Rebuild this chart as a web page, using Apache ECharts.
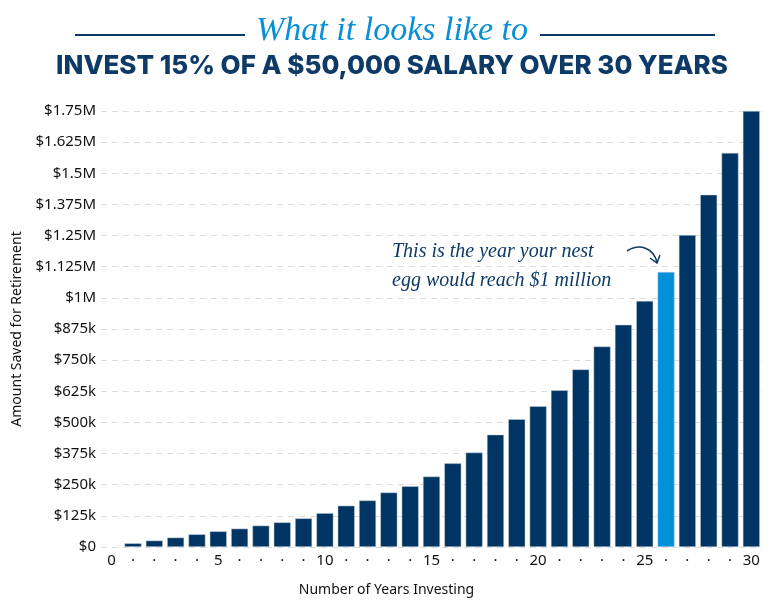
<!DOCTYPE html>
<html><head><meta charset="utf-8">
<script src="https://cdn.jsdelivr.net/npm/echarts@6/dist/echarts.min.js"></script>
<style>html,body{margin:0;padding:0;background:#fff}#c{width:769px;height:602px}</style>
</head><body><div id="c"></div>
<script>
const years = [0,1,2,3,4,5,6,7,8,9,10,11,12,13,14,15,16,17,18,19,20,21,22,23,24,25,26,27,28,29,30];
const savings = [null,15000,26000,38000,51000,63000,74000,86000,99000,115000,136000,166000,187000,219000,244000,283000,336000,379000,451000,513000,565000,629000,713000,805000,892000,988000,1104000,1252000,1414000,1582000,1750000];
const highlightYear = 26;
const yTickLabels = ['$0','$125k','$250k','$375k','$500k','$625k','$750k','$875k','$1M','$1.125M','$1.25M','$1.375M','$1.5M','$1.625M','$1.75M'];

const navy = '#003462', bright = '#0091da';
const chart = echarts.init(document.getElementById('c'));
chart.setOption({
  animation: false,
  textStyle: {fontFamily: 'Noto Sans'},
  grid: {left: 101, right: 7, top: 111, bottom: 54},
  xAxis: {
    type: 'category', data: years.map(String),
    axisLine: {show: false}, axisTick: {show: false},
    axisLabel: {interval: 0, margin: 6, color: '#111', fontSize: 15,
      formatter: v => (+v % 5 === 0 ? v : '·')},
    name: 'Number of Years Investing', nameLocation: 'middle', nameGap: 36,
    nameTextStyle: {color: '#111', fontSize: 14, padding: [0, 90, 0, 0]}
  },
  yAxis: {
    type: 'value', min: 0, max: 1750000, interval: 125000,
    axisLine: {show: false}, axisTick: {show: false},
    splitLine: {lineStyle: {color: '#dcdcdc', type: [6, 5], width: 1}},
    axisLabel: {margin: 5, color: '#111', fontSize: 15,
      formatter: (v) => yTickLabels[Math.round(v / 125000)]},
    name: 'Amount Saved for Retirement', nameLocation: 'middle', nameGap: 77,
    nameTextStyle: {color: '#111', fontSize: 14}
  },
  series: [{
    type: 'bar', barCategoryGap: '20%',
    data: savings.map((v, i) => ({value: v, itemStyle: {color: years[i] === highlightYear ? bright : navy}})),
    itemStyle: {borderColor: 'rgba(200,210,222,0.8)', borderWidth: 0.6}
  }],
  graphic: [
    {type: 'line', shape: {x1: 75, y1: 35, x2: 245, y2: 35}, style: {stroke: '#0b3a66', lineWidth: 2}},
    {type: 'line', shape: {x1: 540, y1: 35, x2: 715, y2: 35}, style: {stroke: '#0b3a66', lineWidth: 2}},
    {type: 'text', x: 392, y: 31, style: {text: 'What it looks like to', fill: '#0a8fd6',
      font: 'italic 34px "Liberation Serif"', textAlign: 'center', textVerticalAlign: 'middle'}},
    {type: 'text', x: 392, y: 66, style: {text: 'INVEST 15% OF A $50,000 SALARY OVER 30 YEARS', fill: '#0d3a66',
      font: '800 26px Inter', textAlign: 'center', textVerticalAlign: 'middle'}},
    {type: 'text', x: 392, y: 252, style: {text: 'This is the year your nest', fill: '#0d3a66',
      font: 'italic 20px "Liberation Serif"', textAlign: 'left', textVerticalAlign: 'middle'}},
    {type: 'text', x: 392, y: 281, style: {text: 'egg would reach $1 million', fill: '#0d3a66',
      font: 'italic 20px "Liberation Serif"', textAlign: 'left', textVerticalAlign: 'middle'}},
    {type: 'bezierCurve', shape: {x1: 627, y1: 251, cpx1: 640, cpy1: 243, cpx2: 653, cpy2: 248, x2: 657, y2: 262},
      style: {stroke: '#0d3a66', lineWidth: 1.5, fill: null}},
    {type: 'polyline', shape: {points: [[650, 258], [657, 263], [660, 255]]},
      style: {stroke: '#0d3a66', lineWidth: 1.5, fill: null}}
  ]
});
</script></body></html>
